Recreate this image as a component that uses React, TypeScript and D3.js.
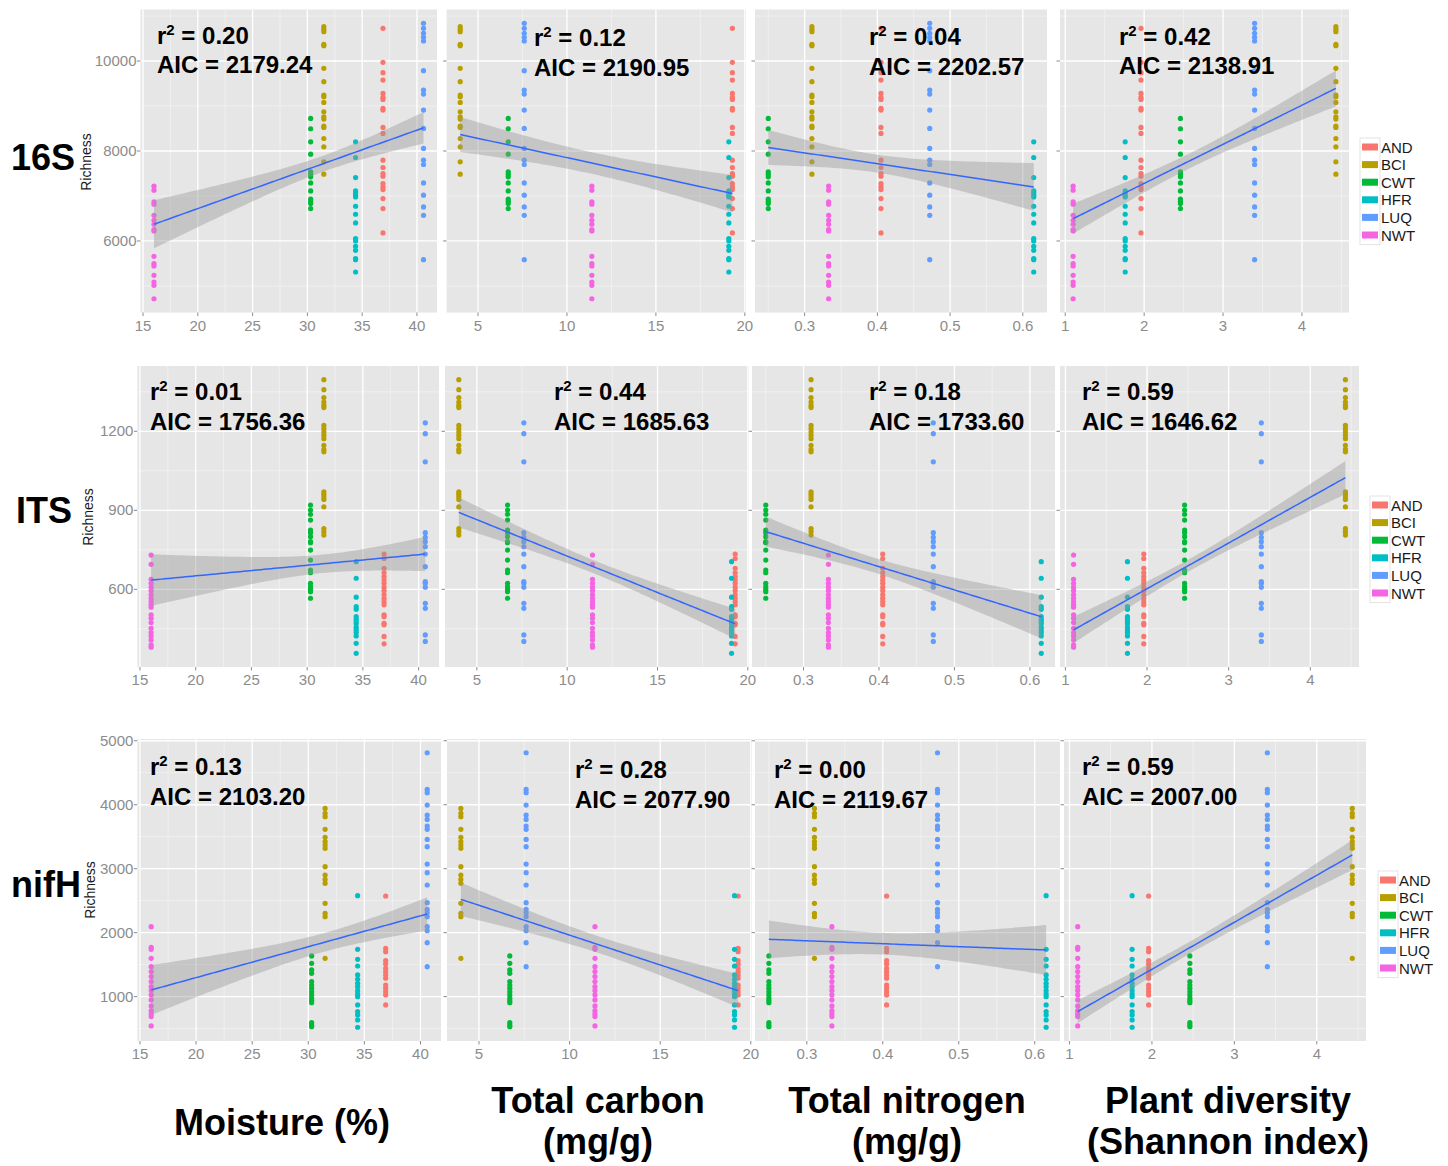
import React from "react";
import * as d3 from "d3";

// ---------------- data ----------------
const sites = ["AND", "BCI", "CWT", "HFR", "LUQ", "NWT"];
const siteColors = ["#F8766D", "#B79F00", "#00BA38", "#00BFC4", "#619CFF", "#F564E3"];

// site-level predictors (order = sites)
const moisture = [36.9, 31.5, 30.3, 34.4, 40.6, 16.0];
const totalCarbon = [19.3, 4.0, 6.7, 19.1, 7.6, 11.4];
const totalNitrogen = [0.405, 0.31, 0.25, 0.615, 0.472, 0.333];
const plantDiversity = [1.96, 4.43, 2.46, 1.76, 3.4, 1.1];

const predictorLabels = [
  ["Moisture (%)"],
  ["Total carbon", "(mg/g)"],
  ["Total nitrogen", "(mg/g)"],
  ["Plant diversity", "(Shannon index)"],
];
const geneNames = ["16S", "ITS", "nifH"];

const xTicks = [
  [15, 20, 25, 30, 35, 40],
  [5, 10, 15, 20],
  [0.3, 0.4, 0.5, 0.6],
  [1, 2, 3, 4],
];
const yTicks16S = [6000, 8000, 10000];
const yTicksITS = [600, 900, 1200];
const yTicksNifH = [1000, 2000, 3000, 4000, 5000];

// richness per site (order = sites)
const richness16S = [
  [10727, 9970, 9740, 9577, 9280, 9191, 9147, 8946, 8909, 8523, 8390, 7796, 7633, 7499, 7440, 7276, 7202, 7143, 6942, 6720, 6178],
  [10764, 10705, 10653, 10371, 10341, 9837, 9540, 9243, 9206, 9080, 8872, 8761, 8709, 8553, 8523, 8278, 8093, 7759, 7484],
  [8724, 8494, 8204, 7929, 7536, 7484, 7425, 7291, 7113, 6928, 6883, 6831, 6720],
  [8204, 7855, 7410, 7113, 7069, 7017, 6980, 6772, 6594, 6401, 6052, 6000, 5881, 5792, 5607, 5585, 5310],
  [10839, 10727, 10616, 10527, 10445, 9785, 9354, 9265, 8909, 8501, 8056, 7796, 7700, 7291, 7017, 6757, 6571, 5584],
  [7217, 7128, 6868, 6816, 6571, 6460, 6371, 6252, 6223, 5659, 5495, 5443, 5236, 5087, 5013, 4716],
];
const richnessITS = [
  [734, 717, 680, 663, 648, 635, 623, 608, 595, 579, 566, 553, 541, 503, 496, 471, 465, 421, 393],
  [1396, 1358, 1328, 1311, 1299, 1290, 1223, 1210, 1197, 1185, 1172, 1147, 1131, 1122, 970, 961, 951, 941, 913, 831, 819, 806],
  [920, 901, 885, 863, 825, 815, 800, 781, 777, 749, 711, 673, 663, 623, 610, 600, 591, 566],
  [705, 642, 570, 534, 524, 496, 486, 477, 469, 456, 446, 436, 423, 395, 357],
  [1232, 1191, 1084, 815, 797, 781, 762, 734, 686, 629, 623, 608, 547, 528, 427, 402],
  [730, 695, 638, 623, 608, 595, 579, 566, 553, 541, 532, 503, 490, 474, 452, 436, 423, 408, 389, 380],
];
const richnessNifH = [
  [2573, 1755, 1703, 1563, 1511, 1443, 1391, 1339, 1287, 1182, 1130, 1078, 1026, 870],
  [3943, 3865, 3813, 3615, 3490, 3422, 3370, 3318, 3031, 2901, 2833, 2771, 2458, 2302, 2250, 1599],
  [1636, 1521, 1417, 1365, 1235, 1182, 1130, 1078, 1026, 974, 938, 906, 594, 558, 531],
  [2578, 1740, 1583, 1479, 1339, 1271, 1208, 1156, 1094, 1042, 1000, 870, 766, 714, 636, 521],
  [4813, 4240, 4188, 3995, 3839, 3771, 3667, 3615, 3458, 3344, 3073, 2938, 2745, 2469, 2365, 2313, 2250, 2094, 2031, 1844, 1469],
  [2094, 1771, 1740, 1599, 1469, 1391, 1313, 1235, 1156, 1094, 1026, 948, 854, 781, 729, 688, 542],
];

// fitted line: value at min x and at max x of the predictor
const fitLine16S = [[6371, 8516], [8367, 7054], [8078, 7202], [6497, 9391]];
const fitLineITS = [[635, 734], [892, 469], [819, 496], [446, 1024]];
const fitLineNifH = [[1104, 2292], [2521, 1094], [1896, 1729], [766, 3214]];
// confidence band half-width: [left end, narrowest, right end]
const fitBand16S = [[535, 178, 350], [390, 240, 416], [390, 200, 530], [334, 165, 400]];
const fitBandITS = [[98, 35, 65], [57, 25, 57], [57, 28, 82], [50, 23, 63]];
const fitBandNifH = [[390, 146, 260], [260, 130, 260], [295, 170, 390], [180, 94, 234]];

const r2_16S = ["0.20", "0.12", "0.04", "0.42"];
const aic_16S = ["2179.24", "2190.95", "2202.57", "2138.91"];
const r2_ITS = ["0.01", "0.44", "0.18", "0.59"];
const aic_ITS = ["1756.36", "1685.63", "1733.60", "1646.62"];
const r2_NifH = ["0.13", "0.28", "0.00", "0.59"];
const aic_NifH = ["2103.20", "2077.90", "2119.67", "2007.00"];

// ---------------- layout ----------------
const W = 1448;
const H = 1166;
const FONT = "'Liberation Sans', Arial, Helvetica, sans-serif";

const predictors = [moisture, totalCarbon, totalNitrogen, plantDiversity];
const geneRichness = [richness16S, richnessITS, richnessNifH];
const geneYTicks = [yTicks16S, yTicksITS, yTicksNifH];
const geneFitLine = [fitLine16S, fitLineITS, fitLineNifH];
const geneFitBand = [fitBand16S, fitBandITS, fitBandNifH];
const geneR2 = [r2_16S, r2_ITS, r2_NifH];
const geneAIC = [aic_16S, aic_ITS, aic_NifH];

const rowY = [[9.5, 312.5], [366, 667], [739, 1041]];
const colX = [
  [[140.5, 437], [446.6, 746], [755, 1047], [1060, 1349]],
  [[137.4, 439], [445, 749], [752, 1055], [1060, 1359]],
  [[137.4, 441], [447, 752], [755, 1060], [1064, 1366]],
];
const annotPos = [
  [[157, 44, 73], [534, 46, 76], [869, 45, 75], [1119, 45, 74]],
  [[150, 400, 430], [554, 400, 430], [869, 400, 430], [1082, 400, 430]],
  [[150, 775, 805], [575, 778, 808], [774, 778, 808], [1082, 775, 805]],
];
const legendPos = [[1362, 147], [1372, 505], [1380, 880]];
const geneLabelPos = [[11, 170], [16, 523], [11, 897]];
const richnessPos = [[86, 162], [88, 517], [90, 890]];

function expand(ext: number[]) {
  const d = (ext[1] - ext[0]) * 0.05;
  return [ext[0] - d, ext[1] + d];
}

function minorTicks(major: number[], domain: number[]) {
  const step = major[1] - major[0];
  const out: number[] = [];
  const all = [major[0] - step, ...major];
  all.forEach((t) => {
    const m = t + step / 2;
    if (m > domain[0] && m < domain[1]) out.push(m);
  });
  return out;
}

function bandHalf(x: number, xa: number, xb: number, L: number, m: number, R: number) {
  const p = Math.sqrt(Math.max(L * L - m * m, 0));
  const q = Math.sqrt(Math.max(R * R - m * m, 0));
  const x0 = xa + ((xb - xa) * p) / (p + q || 1);
  const k = Math.pow((p + q) / (xb - xa), 2);
  return Math.sqrt(m * m + k * (x - x0) * (x - x0));
}

function Panel({ row, col }: { row: number; col: number }) {
  const pred = predictors[col];
  const rich = geneRichness[row];
  const [x0, x1] = colX[row][col];
  const [y0, y1] = rowY[row];
  const xDom = expand(d3.extent(pred) as number[]);
  const allY = rich.flat();
  const yDom = expand(d3.extent(allY) as number[]);
  const xs = d3.scaleLinear().domain(xDom).range([x0, x1]);
  const ys = d3.scaleLinear().domain(yDom).range([y1, y0]);
  const xMaj = xTicks[col];
  const yMaj = geneYTicks[row];
  const xMin = minorTicks(xMaj, xDom);
  const yMin = minorTicks(yMaj, yDom);

  const xa = d3.min(pred) as number;
  const xb = d3.max(pred) as number;
  const [va, vb] = geneFitLine[row][col];
  const [L, m, R] = geneFitBand[row][col];
  const fit = (x: number) => va + ((vb - va) * (x - xa)) / (xb - xa);
  const samples = d3.range(0, 81).map((i) => xa + ((xb - xa) * i) / 80);
  const area = d3
    .area<number>()
    .x((x) => xs(x))
    .y0((x) => ys(fit(x) - bandHalf(x, xa, xb, L, m, R)))
    .y1((x) => ys(fit(x) + bandHalf(x, xa, xb, L, m, R)));
  const line = d3
    .line<number>()
    .x((x) => xs(x))
    .y((x) => ys(fit(x)));

  const [ax, ab1, ab2] = annotPos[row][col];
  const tickColor = "#8c8c8c";

  return (
    <g>
      <rect x={x0} y={y0} width={x1 - x0} height={y1 - y0} fill="#E6E6E6" />
      {xMin.map((t) => (
        <line key={"xm" + t} x1={xs(t)} x2={xs(t)} y1={y0} y2={y1} stroke="#F2F2F2" strokeWidth={0.8} />
      ))}
      {yMin.map((t) => (
        <line key={"ym" + t} x1={x0} x2={x1} y1={ys(t)} y2={ys(t)} stroke="#F2F2F2" strokeWidth={0.8} />
      ))}
      {xMaj.filter((t) => t >= xDom[0] && t <= xDom[1]).map((t) => (
        <line key={"xM" + t} x1={xs(t)} x2={xs(t)} y1={y0} y2={y1} stroke="#FFFFFF" strokeWidth={1.3} />
      ))}
      {yMaj.filter((t) => t >= yDom[0] && t <= yDom[1]).map((t) => (
        <line key={"yM" + t} x1={x0} x2={x1} y1={ys(t)} y2={ys(t)} stroke="#FFFFFF" strokeWidth={1.3} />
      ))}
      {rich.map((vals, si) =>
        vals.map((v, j) => (
          <circle key={si + "-" + j} cx={xs(pred[si])} cy={ys(v)} r={2.6} fill={siteColors[si]} />
        ))
      )}
      <path d={area(samples) || ""} fill="#999999" fillOpacity={0.42} />
      <path d={line(samples) || ""} fill="none" stroke="#3366FF" strokeWidth={1.5} />
      {/* axis ticks */}
      {yMaj.filter((t) => t >= yDom[0] && t <= yDom[1]).map((t) => (
        <g key={"yt" + t}>
          <line x1={x0 - 3.5} x2={x0} y1={ys(t)} y2={ys(t)} stroke={tickColor} strokeWidth={1} />
          {col === 0 && (
            <text x={x0 - 4} y={ys(t) + 5} textAnchor="end" fontSize={15} fill={tickColor} fontFamily={FONT}>
              {String(t)}
            </text>
          )}
        </g>
      ))}
      {xMaj.filter((t) => t >= xDom[0] && t <= xDom[1] + 0.01).map((t) => (
        <g key={"xt" + t}>
          <line x1={xs(t)} x2={xs(t)} y1={y1} y2={y1 + 3.5} stroke={tickColor} strokeWidth={1} />
          <text x={xs(t)} y={y1 + 18} textAnchor="middle" fontSize={15} fill={tickColor} fontFamily={FONT}>
            {String(t)}
          </text>
        </g>
      ))}
      {/* annotation */}
      <text x={ax} y={ab1} fontSize={24} fontWeight="bold" fontFamily={FONT} fill="#000">
        r<tspan fontSize={15} dy={-9}>2</tspan>
        <tspan dy={9}>{" = " + geneR2[row][col]}</tspan>
      </text>
      <text x={ax} y={ab2} fontSize={24} fontWeight="bold" fontFamily={FONT} fill="#000">
        {"AIC = " + geneAIC[row][col]}
      </text>
    </g>
  );
}

function Legend({ row }: { row: number }) {
  const [lx, ly] = legendPos[row];
  const step = 17.6;
  return (
    <g>
      <rect x={lx - 2} y={ly - 9} width={20} height={step * 6 + 1} fill="#FFFFFF" stroke="#E3E3E3" strokeWidth={1} />
      {sites.map((s, i) => (
        <g key={s}>
          <rect x={lx} y={ly + i * step - 3.5} width={16} height={7} fill={siteColors[i]} />
          <text x={lx + 19} y={ly + i * step + 5.5} fontSize={15} fontFamily={FONT} fill="#1a1a1a">
            {s}
          </text>
        </g>
      ))}
    </g>
  );
}

export default function App() {
  return (
    <svg
      width={W}
      height={H}
      viewBox={`0 0 ${W} ${H}`}
      style={{ position: "absolute", left: 0, top: 0, background: "#FFFFFF" }}
    >
      <rect x={0} y={0} width={W} height={H} fill="#FFFFFF" />
      {geneNames.map((g, row) => (
        <g key={g}>
          {predictors.map((_, col) => (
            <Panel key={col} row={row} col={col} />
          ))}
          <Legend row={row} />
          <text
            x={geneLabelPos[row][0]}
            y={geneLabelPos[row][1]}
            fontSize={36}
            fontWeight="bold"
            fontFamily={FONT}
            fill="#000"
          >
            {g}
          </text>
          <text
            transform={`translate(${richnessPos[row][0] + 5},${richnessPos[row][1]}) rotate(-90)`}
            textAnchor="middle"
            fontSize={14}
            fontFamily={FONT}
            fill="#1a1a1a"
          >
            Richness
          </text>
        </g>
      ))}
      {predictorLabels.map((lines, col) => {
        const cx = [282, 598, 907, 1228][col];
        const baselines = lines.length === 1 ? [1135] : [1113, 1154];
        return lines.map((t, i) => (
          <text
            key={col + "-" + i}
            x={cx}
            y={baselines[i]}
            textAnchor="middle"
            fontSize={36}
            fontWeight="bold"
            fontFamily={FONT}
            fill="#000"
          >
            {t}
          </text>
        ));
      })}
    </svg>
  );
}
